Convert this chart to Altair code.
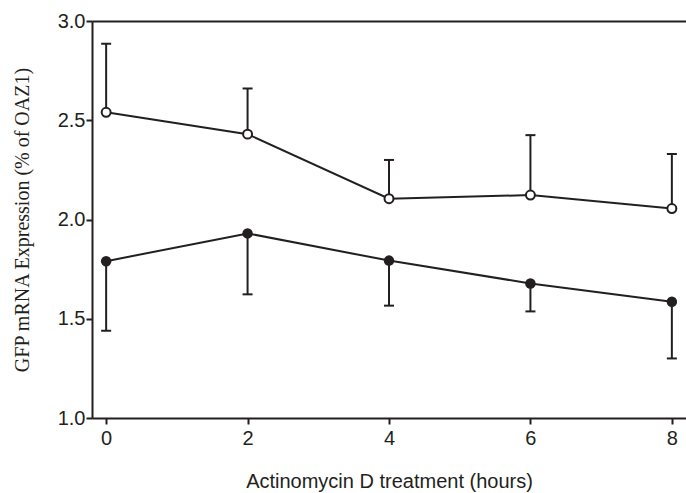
import altair as alt
import pandas as pd

hours = [0, 2, 4, 6, 8]
open_mean = [2.54, 2.43, 2.105, 2.123, 2.055]
open_err = [2.885, 2.66, 2.30, 2.425, 2.33]
filled_mean = [1.79, 1.93, 1.793, 1.678, 1.586]
filled_err = [1.44, 1.623, 1.566, 1.537, 1.30]
x_ticks = [0, 2, 4, 6, 8]
y_ticks = [1.0, 1.5, 2.0, 2.5, 3.0]

rows = []
for s, m, e in [("open", open_mean, open_err), ("filled", filled_mean, filled_err)]:
    for h, mv, ev in zip(hours, m, e):
        rows.append(dict(series=s, hours=h, mean=mv, err=ev))
df = pd.DataFrame(rows)

INK = "#231f20"
xs = alt.Scale(domain=[-0.2, 8.2], nice=False, zero=False)
ys = alt.Scale(domain=[1, 3], nice=False, zero=False)

x_axis = alt.Axis(values=x_ticks, title="Actinomycin D treatment (hours)", grid=False,
                  domainColor=INK, domainWidth=2, tickColor=INK, tickWidth=2, tickSize=6,
                  labelFont="Liberation Sans", labelFontSize=20, labelColor=INK, labelPadding=4,
                  titleFont="Liberation Sans", titleFontSize=20, titleFontWeight="normal",
                  titleColor=INK, titlePadding=23)
y_axis = alt.Axis(values=y_ticks, format=".1f", title="GFP mRNA Expression (% of OAZ1)", grid=False,
                  domainColor=INK, domainWidth=2, tickColor=INK, tickWidth=2, tickSize=6,
                  labelFont="Liberation Sans", labelFontSize=20, labelColor=INK, labelPadding=1,
                  titleFont="Liberation Serif", titleFontSize=20, titleFontWeight="normal",
                  titleColor=INK, titlePadding=25)

Y_MEAN = alt.Y("mean:Q", scale=ys, axis=y_axis)
base = alt.Chart(df)

rules = base.mark_rule(color=INK, strokeWidth=2).encode(
    x=alt.X("hours:Q", scale=xs, axis=x_axis),
    y=Y_MEAN,
    y2="err:Q",
)
caps = base.mark_tick(color=INK, thickness=2, size=10, orient="horizontal", opacity=1).encode(
    x=alt.X("hours:Q", scale=xs, axis=None),
    y=alt.Y("err:Q", scale=ys, axis=y_axis),
)
lines = base.mark_line(color=INK, strokeWidth=2).encode(
    x=alt.X("hours:Q", scale=xs, axis=None),
    y=Y_MEAN,
    detail="series:N",
)
open_pts = base.transform_filter(alt.datum.series == "open").mark_point(
    shape="circle", filled=True, fill="white", stroke=INK, strokeWidth=2, size=80, opacity=1
).encode(
    x=alt.X("hours:Q", scale=xs, axis=None),
    y=Y_MEAN,
)
filled_pts = base.transform_filter(alt.datum.series == "filled").mark_circle(
    color=INK, size=110, opacity=1
).encode(
    x=alt.X("hours:Q", scale=xs, axis=None),
    y=Y_MEAN,
)
top_axis = base.mark_point(opacity=0).encode(
    x=alt.X("hours:Q", scale=xs,
            axis=alt.Axis(orient="top", labels=False, ticks=False, title=None, grid=False,
                          domainColor=INK, domainWidth=2)),
    y=Y_MEAN,
)

chart = alt.layer(rules, caps, lines, open_pts, filled_pts, top_axis).resolve_axis(
    x="independent"
).properties(
    width=594, height=397,
    autosize=alt.AutoSizeParams(type="none"),
    padding={"left": 92, "top": 21, "right": 0, "bottom": 75},
    background="white",
).configure_view(stroke=None)

chart.save("out.html", embed_options={"renderer": "svg", "actions": False})
